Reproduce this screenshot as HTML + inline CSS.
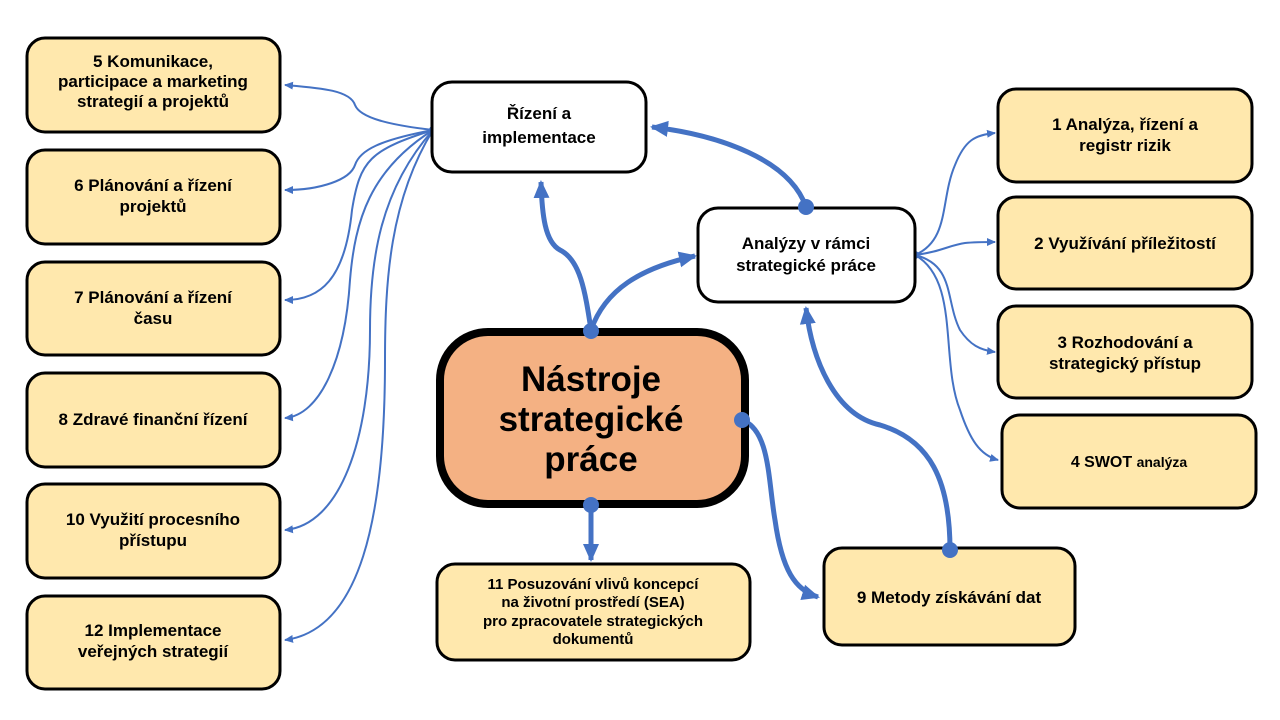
<!DOCTYPE html>
<html><head><meta charset="utf-8"><style>
body{margin:0;background:#fff;}
svg{display:block;font-family:"Liberation Sans",sans-serif;}
text{font-weight:bold;text-anchor:middle;fill:#000;}
</style></head><body>
<svg width="1280" height="720" viewBox="0 0 1280 720" xmlns="http://www.w3.org/2000/svg">
<defs>
<marker id="a" markerWidth="10" markerHeight="10" refX="8" refY="5" orient="auto" markerUnits="userSpaceOnUse"><path d="M0,1 L9,5 L0,9 Z" fill="#4472C4"/></marker>
<marker id="A" markerWidth="20" markerHeight="20" refX="16" refY="10" orient="auto" markerUnits="userSpaceOnUse"><path d="M0,2 L18,10 L0,18 Z" fill="#4472C4"/></marker>
</defs>
<g fill="none" stroke="#4472C4" stroke-width="2">
<path d="M433,130 C390,125 360,118 355,105 C350,90 320,88 285,85" marker-end="url(#a)"/>
<path d="M433,130 C380,140 360,150 355,165 C350,180 320,190 285,190" marker-end="url(#a)"/>
<path d="M433,130 C370,150 360,160 352,210 C345,280 320,300 285,300" marker-end="url(#a)"/>
<path d="M433,130 C370,170 355,220 350,280 C345,360 320,415 285,418" marker-end="url(#a)"/>
<path d="M433,130 C380,190 370,260 370,330 C370,440 340,525 285,530" marker-end="url(#a)"/>
<path d="M433,130 C390,200 385,280 385,360 C385,520 360,630 285,640" marker-end="url(#a)"/>
<path d="M915,255 C950,240 940,200 955,165 C965,140 975,135 995,133" marker-end="url(#a)"/>
<path d="M915,255 C940,252 950,245 965,243 C975,242 985,242 995,242" marker-end="url(#a)"/>
<path d="M915,255 C955,265 945,300 960,330 C970,345 980,350 995,352" marker-end="url(#a)"/>
<path d="M915,255 C960,280 940,360 960,410 C970,440 980,455 998,460" marker-end="url(#a)"/>
</g>
<circle cx="433" cy="130" r="4" fill="#4472C4"/>
<circle cx="915" cy="255" r="4" fill="#4472C4"/>
<g fill="none" stroke="#4472C4" stroke-width="5">
<path d="M591,330 C585,290 580,260 560,250 C545,242 542,215 541,182" marker-end="url(#A)"/>
<path d="M591,330 C605,290 640,268 695,256" marker-end="url(#A)"/>
<path d="M806,207 C790,160 720,135 652,127" marker-end="url(#A)"/>
<path d="M742,420 C770,430 768,480 775,520 C782,570 795,590 818,597" marker-end="url(#A)"/>
<path d="M950,550 C950,480 930,440 880,425 C835,415 812,360 806,308" marker-end="url(#A)"/>
<path d="M591,505 L591,560" marker-end="url(#A)"/>
</g>
<g stroke="#000" stroke-width="3" fill="#FFE8AD">
<rect x="27" y="38" width="253" height="94" rx="18"/>
<rect x="27" y="150" width="253" height="94" rx="18"/>
<rect x="27" y="262" width="253" height="93" rx="18"/>
<rect x="27" y="373" width="253" height="94" rx="18"/>
<rect x="27" y="484" width="253" height="94" rx="18"/>
<rect x="27" y="596" width="253" height="93" rx="18"/>
<rect x="998" y="89" width="254" height="93" rx="18"/>
<rect x="998" y="197" width="254" height="92" rx="18"/>
<rect x="998" y="306" width="254" height="92" rx="18"/>
<rect x="1002" y="415" width="254" height="93" rx="18"/>
<rect x="437" y="564" width="313" height="96" rx="18"/>
<rect x="824" y="548" width="251" height="97" rx="18"/>
<rect x="432" y="82" width="214" height="90" rx="20" fill="#fff"/>
<rect x="698" y="208" width="217" height="94" rx="20" fill="#fff"/>
</g>
<rect x="440" y="332" width="305" height="172" rx="48" fill="#F4B183" stroke="#000" stroke-width="8"/>
<circle cx="591" cy="331" r="8" fill="#4472C4"/>
<circle cx="591" cy="505" r="8" fill="#4472C4"/>
<circle cx="742" cy="420" r="8" fill="#4472C4"/>
<circle cx="806" cy="207" r="8" fill="#4472C4"/>
<circle cx="950" cy="550" r="8" fill="#4472C4"/>
<g font-size="17">
<text x="153" y="67">5 Komunikace,</text>
<text x="153" y="87">participace a marketing</text>
<text x="153" y="107">strategií a projektů</text>
<text x="153" y="191">6 Plánování a řízení</text>
<text x="153" y="212">projektů</text>
<text x="153" y="303">7 Plánování a řízení</text>
<text x="153" y="324">času</text>
<text x="153" y="425">8 Zdravé finanční řízení</text>
<text x="153" y="525">10 Využití procesního</text>
<text x="153" y="546">přístupu</text>
<text x="153" y="636">12 Implementace</text>
<text x="153" y="657">veřejných strategií</text>
<text x="539" y="119">Řízení a</text>
<text x="539" y="143">implementace</text>
<text x="806" y="249">Analýzy v rámci</text>
<text x="806" y="271">strategické práce</text>
<text x="1125" y="130">1 Analýza, řízení a</text>
<text x="1125" y="151">registr rizik</text>
<text x="1125" y="249">2 Využívání příležitostí</text>
<text x="1125" y="348">3 Rozhodování a</text>
<text x="1125" y="369">strategický přístup</text>
<text x="1129" y="467" font-size="16">4 SWOT <tspan font-size="14">analýza</tspan></text>
<text x="949" y="603">9 Metody získávání dat</text>
</g>
<g font-size="15">
<text x="593" y="589">11 Posuzování  vlivů koncepcí</text>
<text x="593" y="607">na životní prostředí (SEA)</text>
<text x="593" y="626">pro zpracovatele strategických</text>
<text x="593" y="644">dokumentů</text>
</g>
<g font-size="35">
<text x="591" y="391">Nástroje</text>
<text x="591" y="431">strategické</text>
<text x="591" y="471">práce</text>
</g>
</svg>
</body></html>
